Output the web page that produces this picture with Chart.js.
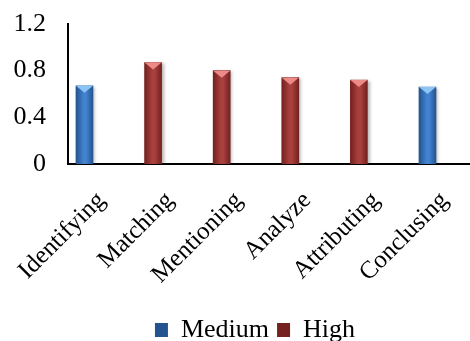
<!DOCTYPE html>
<html>
<head>
    <title>Levels by skill</title>
    <script src="https://cdn.jsdelivr.net/npm/chart.js"></script>
    <style>
        body { margin: 0; background: #fff; }
        #wrap { width: 470px; height: 341px; }
    </style>
</head>
<body>
    <div id="wrap"><canvas id="levelChart"></canvas></div>
    <script>
        // data
        const skills = ['Identifying', 'Matching', 'Mentioning', 'Analyze', 'Attributing', 'Conclusing'];
        const medium = [0.67, null, null, null, null, 0.66];
        const high = [null, 0.87, 0.80, 0.74, 0.72, null];
        const yTicks = [0, 0.4, 0.8, 1.2];

        const fontFam = '"Liberation Serif", "Times New Roman", serif';

        // colours: edge, centre, bevel
        const blue = ['#24548f', '#4282d0', '#8cc4f4'];
        const red = ['#74211f', '#a8403d', '#ec8a88'];

        const toPoints = arr => arr.map((v, i) => ({ x: i, y: v })).filter(p => p.y !== null);

        // horizontal gradient across each bar
        const barFill = cols => ctx => {
            const chart = ctx.chart;
            if (ctx.type !== 'data' || !chart.scales.x) return cols[1];
            const x = chart.scales.x.getPixelForValue(ctx.raw.x);
            if (!isFinite(x)) return cols[1];
            const g = chart.ctx.createLinearGradient(x - 8.5, 0, x + 8.5, 0);
            g.addColorStop(0, cols[0]);
            g.addColorStop(0.45, cols[1]);
            g.addColorStop(0.6, cols[1]);
            g.addColorStop(1, cols[0]);
            return g;
        };

        const bevelPlugin = {
            id: 'bevel',
            beforeDatasetsDraw(chart) {
                const c = chart.ctx;
                c.save();
                c.shadowColor = 'rgba(0,0,0,0.3)';
                c.shadowBlur = 3;
                c.shadowOffsetX = 2;
                c.shadowOffsetY = 1;
            },
            afterDatasetsDraw(chart) {
                const c = chart.ctx;
                c.restore();
                chart.data.datasets.forEach((ds, di) => {
                    const cols = ds.bevel;
                    chart.getDatasetMeta(di).data.forEach(bar => {
                        const w = bar.width / 2;
                        c.beginPath();
                        c.moveTo(bar.x - w, bar.y);
                        c.lineTo(bar.x + w, bar.y);
                        c.lineTo(bar.x, bar.y + 7);
                        c.closePath();
                        c.fillStyle = cols[2];
                        c.fill();
                    });
                });
            },
            afterLayout(chart) {
                // legend sits a little right of centre and low
                const lg = chart.legend;
                lg.left += 40;
                lg.top += 12;
                lg.bottom += 12;
            }
        };

        new Chart(document.getElementById('levelChart'), {
            type: 'bar',
            data: {
                datasets: [
                    {
                        label: 'Medium',
                        data: toPoints(medium),
                        backgroundColor: barFill(blue),
                        bevel: blue,
                        grouped: false,
                        barThickness: 17
                    },
                    {
                        label: 'High',
                        data: toPoints(high),
                        backgroundColor: barFill(red),
                        bevel: red,
                        grouped: false,
                        barThickness: 17
                    }
                ]
            },
            options: {
                responsive: true,
                maintainAspectRatio: false,
                animation: false,
                layout: { padding: { top: 24, right: 0, left: 0, bottom: 0 } },
                plugins: {
                    legend: {
                        position: 'bottom',
                        labels: {
                            color: '#000',
                            font: { family: fontFam, size: 26 },
                            boxWidth: 13,
                            boxHeight: 14,
                            padding: 8
                        }
                    },
                    tooltip: { enabled: false }
                },
                scales: {
                    x: {
                        type: 'linear',
                        offset: false,
                        min: -0.24,
                        max: 5.62,
                        grid: { display: false, drawTicks: false, offset: false },
                        border: { display: true, color: '#000', width: 2 },
                        ticks: {
                            stepSize: 1,
                            includeBounds: false,
                            autoSkip: false,
                            maxRotation: 45,
                            minRotation: 45,
                            padding: 22,
                            labelOffset: 17,
                            color: '#000',
                            font: { family: fontFam, size: 25 },
                            callback: v => skills[v] ?? ''
                        },
                        afterFit: s => {
                            s.height = 133;
                            s.paddingLeft = 0;
                            s.paddingRight = 0;
                        }
                    },
                    y: {
                        min: 0,
                        max: 1.2,
                        grid: { display: false, drawTicks: false },
                        border: { display: true, color: '#000', width: 2 },
                        afterBuildTicks: s => { s.ticks = yTicks.map(v => ({ value: v })); },
                        ticks: {
                            padding: 22,
                            color: '#000',
                            font: { family: fontFam, size: 26 }
                        },
                        afterFit: s => {
                            s.width = 68;
                            s.paddingTop = 0;
                        }
                    }
                }
            },
            plugins: [bevelPlugin]
        });
    </script>
</body>
</html>
